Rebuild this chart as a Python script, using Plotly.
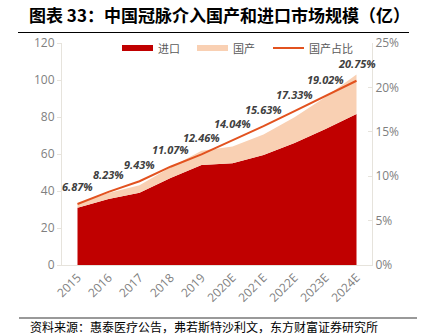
import plotly.graph_objects as go

years = ["2015", "2016", "2017", "2018", "2019", "2020E", "2021E", "2022E", "2023E", "2024E"]
imports = [31.0, 35.7, 39.0, 47.0, 54.0, 55.0, 59.5, 66.0, 73.5, 81.6]
domestic = [2.3, 3.2, 4.1, 5.9, 7.7, 9.0, 11.0, 13.8, 17.3, 21.4]
share = [6.87, 8.23, 9.43, 11.07, 12.46, 14.04, 15.63, 17.33, 19.02, 20.75]
share_labels = ["6.87%", "8.23%", "9.43%", "11.07%", "12.46%", "14.04%", "15.63%", "17.33%", "19.02%", "20.75%"]
series_names = ["进口", "国产", "国产占比"]

title_text = "图表 33：中国冠脉介入国产和进口市场规模（亿）"
source_text = "资料来源：惠泰医疗公告，弗若斯特沙利文，东方财富证券研究所"

W, H = 430, 336
L, R, T, B = 62, 372, 43, 265

def px(x):
    return (x - L) / (R - L)

def py(y):
    return (B - y) / (B - T)

tick_font = dict(family="Open Sans, sans-serif", size=12, color="#7f7f7f")
axis_col = "#e6e3dc"
c_imp, c_dom, c_line = "#C00000", "#F9D0B3", "#E2521F"

fig = go.Figure()
fig.add_trace(go.Scatter(x=years, y=imports, name=series_names[0], stackgroup="a", mode="none",
                         fillcolor=c_imp))
fig.add_trace(go.Scatter(x=years, y=domestic, name=series_names[1], stackgroup="a", mode="none",
                         fillcolor=c_dom))
fig.add_trace(go.Scatter(x=years, y=share, name=series_names[2], yaxis="y2", mode="lines",
                         line=dict(color=c_line, width=2)))

for i, (s, lab) in enumerate(zip(share, share_labels)):
    fig.add_annotation(x=i, y=s, xref="x", yref="y2", text="<b><i>" + lab + "</i></b>", showarrow=False,
                       yshift=17, font=dict(family="Open Sans, sans-serif", size=11, color="#404040"))

# legend (drawn manually for exact spacing)
leg_y = 48
leg_font = dict(family="Noto Sans CJK SC", size=11, color="#595959")
fig.add_shape(type="rect", xref="paper", yref="paper", x0=px(122), x1=px(153), y0=py(51), y1=py(45),
              fillcolor=c_imp, line=dict(width=0))
fig.add_shape(type="rect", xref="paper", yref="paper", x0=px(197), x1=px(228), y0=py(51), y1=py(45),
              fillcolor=c_dom, line=dict(width=0))
fig.add_shape(type="line", xref="paper", yref="paper", x0=px(273), x1=px(304), y0=py(leg_y), y1=py(leg_y),
              line=dict(color=c_line, width=2))
for xt, nm in zip([156, 231, 307], series_names):
    fig.add_annotation(x=px(xt), y=py(leg_y), xref="paper", yref="paper", text=nm, showarrow=False,
                       xanchor="left", yanchor="middle", font=leg_font)

fig.add_annotation(x=px(219), y=py(15), xref="paper", yref="paper", text="<b>" + title_text + "</b>",
                   showarrow=False, xanchor="center", yanchor="middle",
                   font=dict(family="Noto Sans CJK SC", size=17, color="#000000"))
fig.add_annotation(x=px(28), y=py(326), xref="paper", yref="paper", text=source_text,
                   showarrow=False, xanchor="left", yanchor="middle",
                   font=dict(family="Noto Sans CJK SC", size=12, color="#000000"))
fig.add_shape(type="line", xref="paper", yref="paper", x0=px(18), x1=px(409), y0=py(32.5), y1=py(32.5),
              line=dict(color="#000000", width=1))
fig.add_shape(type="line", xref="paper", yref="paper", x0=px(19), x1=px(417), y0=py(318), y1=py(318),
              line=dict(color="#999999", width=2))

fig.update_layout(
    width=W, height=H,
    margin=dict(l=L, r=W - R, t=T, b=H - B),
    paper_bgcolor="white", plot_bgcolor="white",
    showlegend=False,
    xaxis=dict(type="category", range=[-0.5, 9.5], tickangle=-45, tickfont=tick_font,
               showline=True, linecolor=axis_col, linewidth=1, showgrid=False, ticks="", zeroline=False),
    yaxis=dict(range=[0, 120], dtick=20, tickfont=tick_font, showline=True, linecolor=axis_col,
               linewidth=1, showgrid=False, ticks="outside", ticklen=4, tickcolor=axis_col, zeroline=False),
    yaxis2=dict(range=[0, 25], dtick=5, overlaying="y", side="right", tickfont=tick_font,
                ticksuffix="%", showline=True, linecolor=axis_col, linewidth=1, showgrid=False,
                ticks="inside", ticklen=4, tickcolor=axis_col, zeroline=False),
)

fig.write_html("out.html")
